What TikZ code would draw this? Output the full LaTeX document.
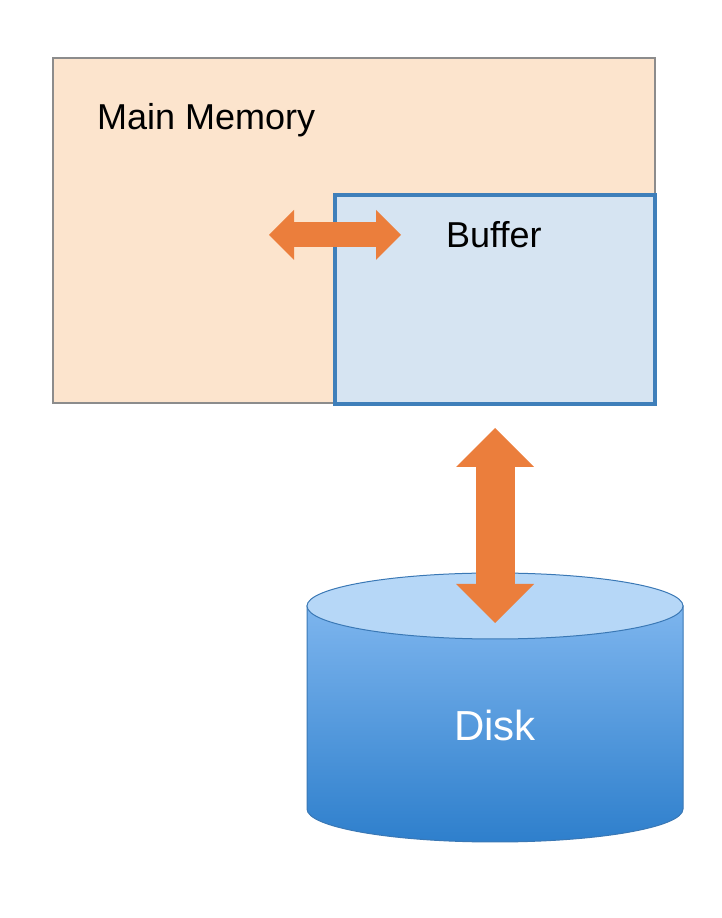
\documentclass[tikz,border=0pt]{standalone}
\usepackage{fontspec}
\setmainfont{Liberation Sans}
\usetikzlibrary{arrows.meta,positioning,calc}

\definecolor{memfill}{HTML}{FCE4CD}
\definecolor{memline}{HTML}{8C8C8C}
\definecolor{buffill}{HTML}{D6E4F2}
\definecolor{bufline}{HTML}{3F7FBA}
\definecolor{flow}{HTML}{EB7E3C}
\definecolor{disktop}{HTML}{B6D7F7}
\definecolor{diskhigh}{HTML}{7DB5EE}
\definecolor{disklow}{HTML}{2E7FCC}
\definecolor{diskline}{HTML}{3A78B5}

\begin{document}
\begin{tikzpicture} [x = 1pt, y = 1pt]
            % Estilos
            \tikzstyle{block}=[rectangle, draw, inner sep=0pt]
            \tikzstyle{boxtext}=[inner sep=0pt, font=\fontsize{36}{40}\selectfont]
            \tikzstyle{flowarrow}=[draw=flow, line width=#1]
            \useasboundingbox (0,0) rectangle (722,918);

            % Blocos
            \node[block, draw=memline, line width=1.2pt, fill=memfill,
                  minimum width=602pt, minimum height=345pt] (mem) at (354,687.5) {};
            \node[boxtext, anchor=base west] (memtext) at (97,788) {Main Memory};
            \node[block, draw=bufline, line width=4pt, fill=buffill,
                  minimum width=320pt, minimum height=209pt] (buf) at (495,618.5) {};
            \node[boxtext, anchor=base west] (buftext) at (446,670) {Buffer};

            % Disco
            \coordinate (disk) at (495,210.5);
            \shade[top color=diskhigh, bottom color=disklow, draw=diskline, line width=1pt]
                (307,312) -- (307,109) arc (180:360:188 and 33) -- (683,312) -- cycle;
            \draw[diskline, line width=1pt, fill=disktop] (495,312) ellipse (188 and 33);
            \node[boxtext, anchor=base, text=white, font=\fontsize{42}{46}\selectfont] (disktext) at (495,177) {Disk};

            % Setas
            \coordinate (hl) at (269,683);
            \coordinate (hr) at (401,683);
            \coordinate (vt) at (495,490);
            \coordinate (vb) at (495,295);
            \draw[flowarrow=25pt, {Triangle[length=25pt,width=50pt,line width=0pt]}-{Triangle[length=25pt,width=50pt,line width=0pt]}] (hl) -- (hr);
            \draw[flowarrow=39pt, {Triangle[length=39pt,width=78pt,line width=0pt]}-{Triangle[length=39pt,width=78pt,line width=0pt]}] (vt) -- (vb);
        \end{tikzpicture}
\end{document}
